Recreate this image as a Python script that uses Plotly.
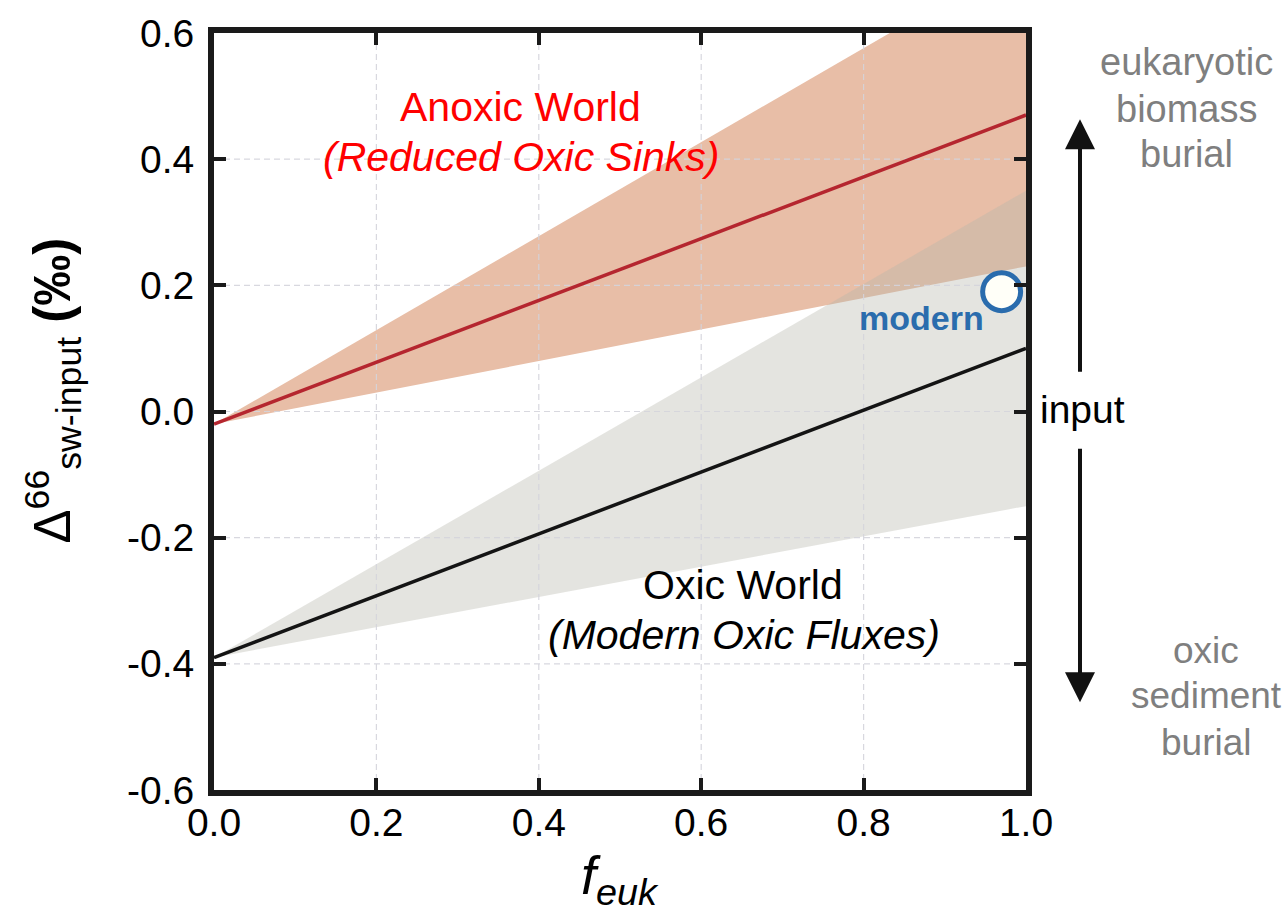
import plotly.graph_objects as go

# ---- data ----
f_euk = [0.0, 1.0]
anoxic_mid = [-0.02, 0.47]
anoxic_upper = [-0.02, 0.725]
anoxic_lower = [-0.02, 0.23]
oxic_mid = [-0.39, 0.10]
oxic_upper = [-0.39, 0.35]
oxic_lower = [-0.39, -0.15]
modern_x = [0.97]
modern_y = [0.19]

x_ticks = [0.0, 0.2, 0.4, 0.6, 0.8, 1.0]
x_ticklabels = ["0.0", "0.2", "0.4", "0.6", "0.8", "1.0"]
y_ticks = [-0.6, -0.4, -0.2, 0.0, 0.2, 0.4, 0.6]
y_ticklabels = ["-0.6", "-0.4", "-0.2", "0.0", "0.2", "0.4", "0.6"]

FONT = "Liberation Sans, Arial, Helvetica, sans-serif"
AXC = "#1a1a1a"

fig = go.Figure()

# anoxic band
fig.add_trace(go.Scatter(
    x=f_euk + f_euk[::-1], y=anoxic_upper + anoxic_lower[::-1],
    fill="toself", fillcolor="#e8bea7", line=dict(width=0),
    mode="lines", hoverinfo="skip", showlegend=False))
# oxic band (semi-transparent, drawn over)
fig.add_trace(go.Scatter(
    x=f_euk + f_euk[::-1], y=oxic_upper + oxic_lower[::-1],
    fill="toself", fillcolor="rgba(182,182,171,0.37)", line=dict(width=0),
    mode="lines", hoverinfo="skip", showlegend=False))

# grid lines drawn above the bands
gx, gy = [], []
for v in x_ticks[1:-1]:
    gx += [v, v, None]
    gy += [y_ticks[0], y_ticks[-1], None]
for v in y_ticks[1:-1]:
    gx += [x_ticks[0], x_ticks[-1], None]
    gy += [v, v, None]
fig.add_trace(go.Scatter(
    x=gx, y=gy, mode="lines",
    line=dict(color="rgba(212,212,220,0.9)", width=1.2, dash="6px,4px"),
    hoverinfo="skip", showlegend=False))

# central lines
fig.add_trace(go.Scatter(x=f_euk, y=anoxic_mid, mode="lines",
                         line=dict(color="#b5262f", width=3.5), showlegend=False))
fig.add_trace(go.Scatter(x=f_euk, y=oxic_mid, mode="lines",
                         line=dict(color="#141414", width=3.5), showlegend=False))

# modern point
fig.add_trace(go.Scatter(x=modern_x, y=modern_y, mode="markers",
                         marker=dict(size=38, color="#fffff8",
                                     line=dict(color="#2a6cad", width=5)),
                         cliponaxis=False, showlegend=False))

ann = []
def add(text, x, y, size, color="black", xref="x", yref="y", angle=0):
    ann.append(dict(text=text, x=x, y=y, xref=xref, yref=yref, showarrow=False,
                    textangle=angle, xanchor="center", yanchor="middle",
                    font=dict(family=FONT, size=size, color=color)))

add("Anoxic World", 0.377, 0.483, 41, "#ff0000")
add("<i>(Reduced Oxic Sinks)</i>", 0.378, 0.403, 41, "#ff0000")
add("Oxic World", 0.652, -0.275, 41, "black")
add("<i>(Modern Oxic Fluxes)</i>", 0.653, -0.354, 41, "black")
add("<b>modern</b>", 0.871, 0.148, 34, "#2a6cad")

GREY = "#7f7f7f"
for txt, yp in [("eukaryotic", 0.962), ("biomass", 0.899), ("burial", 0.840)]:
    add(txt, 1.198, yp, 38, GREY, xref="paper", yref="paper")
for txt, yp in [("oxic", 0.184), ("sediment", 0.125), ("burial", 0.063)]:
    add(txt, 1.222, yp, 37, GREY, xref="paper", yref="paper")
add("input", 1.069, 0.503, 39, "black", xref="paper", yref="paper")

# arrows
ann.append(dict(x=1.0665, y=0.886, xref="paper", yref="paper", ax=0, ay=254,
                axref="pixel", ayref="pixel", text="", showarrow=True,
                arrowhead=2, arrowsize=1.5, arrowwidth=4, arrowcolor="#111111"))
ann.append(dict(x=1.0665, y=0.116, xref="paper", yref="paper", ax=0, ay=-255,
                axref="pixel", ayref="pixel", text="", showarrow=True,
                arrowhead=2, arrowsize=1.5, arrowwidth=4, arrowcolor="#111111"))

# axis titles
add("Δ<sup>66</sup><sub>sw-input</sub> <b>(‰)</b>", -0.198, 0.528, 51, "black",
    xref="paper", yref="paper", angle=-90)
add("<i>f</i><sub><i>euk</i></sub>", 0.5, -0.118, 54, "black",
    xref="paper", yref="paper")

axis_common = dict(showline=True, linewidth=6, linecolor=AXC, mirror="allticks",
                   ticks="inside", ticklen=12, tickwidth=4, tickcolor=AXC,
                   showgrid=False, zeroline=False,
                   tickfont=dict(family=FONT, size=39, color="black"))

fig.update_layout(
    width=1284, height=917, autosize=False,
    margin=dict(l=214, r=258, t=30, b=127),
    paper_bgcolor="white", plot_bgcolor="white",
    xaxis=dict(range=[0, 1], tickvals=x_ticks, ticktext=x_ticklabels,
               ticklabelstandoff=-7, **axis_common),
    yaxis=dict(range=[-0.6, 0.6], tickvals=y_ticks, ticktext=y_ticklabels,
               ticklabelstandoff=6, **axis_common),
    annotations=ann,
)

fig.write_html("out.html")
